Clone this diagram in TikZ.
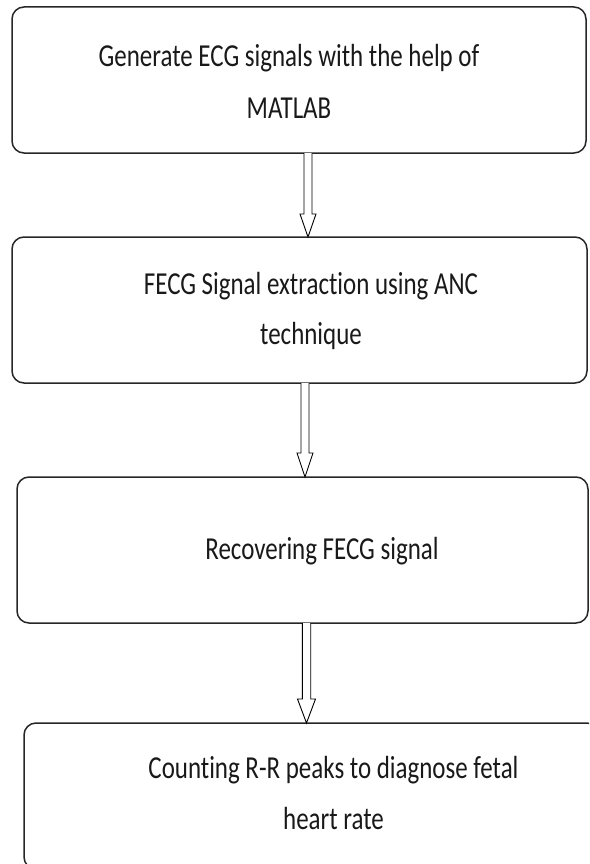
\documentclass[tikz,border=0pt]{standalone}
\usepackage{fontspec}
\setmainfont{Carlito}[FakeStretch=0.78, Ligatures={NoCommon}]
\usetikzlibrary{calc}
\begin{document}
\begin{tikzpicture}[x=1pt,y=-1pt,
  box/.style={draw=black!85, line width=1.5pt, rounded corners=12pt,
    minimum width=#1, minimum height=146pt, inner sep=0pt, outer sep=0pt},
  txt/.style={anchor=base, inner sep=0pt, font=\fontsize{32}{50}\selectfont, text=black!90},
  arr/.style={draw=black, line width=0.9pt, fill=white, line join=miter}
]
\useasboundingbox (0,0) rectangle (589,864);
\clip (0,0) rectangle (589,864);

% boxes
\node[box=574pt] (b1) at (299,80) {};
\node[box=575pt] (b2) at (299.5,310) {};
\node[box=571pt] (b3) at (302.5,550) {};
\node[box=575pt] (b4) at (311.5,796) {};

% texts
\node[txt] (t1a) at (289,67) {Generate ECG signals with the help of};
\node[txt] (t1b) at (289,118) {MATLAB};
\node[txt] (t2a) at (311,294) {FECG Signal extraction using ANC};
\node[txt] (t2b) at (311,344) {technique};
\node[txt] (t3)  at (322,559) {Recovering FECG signal};
\node[txt] (t4a) at (333.5,778) {Counting R-R peaks to diagnose fetal};
\node[txt] (t4b) at (333.5,829) {heart rate};

% arrow axes
\coordinate (x1) at (308,0);
\coordinate (x2) at (305,0);
\coordinate (x3) at (306.5,0);

% hollow block arrows
\draw[arr] ($(b1.south -| x1)+(-4,0)$) |- ($(b2.north -| x1)+(-8,-23)$)
  -- (b2.north -| x1) -- ++(8,-23) -| ($(b1.south -| x1)+(4,0)$);
\draw[arr] ($(b2.south -| x2)+(-4,0)$) |- ($(b3.north -| x2)+(-8,-24)$)
  -- (b3.north -| x2) -- ++(8,-24) -| ($(b2.south -| x2)+(4,0)$);
\draw[arr] ($(b3.south -| x3)+(-4.2,0)$) |- ($(b4.north -| x3)+(-9,-24)$)
  -- (b4.north -| x3) -- ++(9,-24) -| ($(b3.south -| x3)+(4.2,0)$);
\end{tikzpicture}
\end{document}
